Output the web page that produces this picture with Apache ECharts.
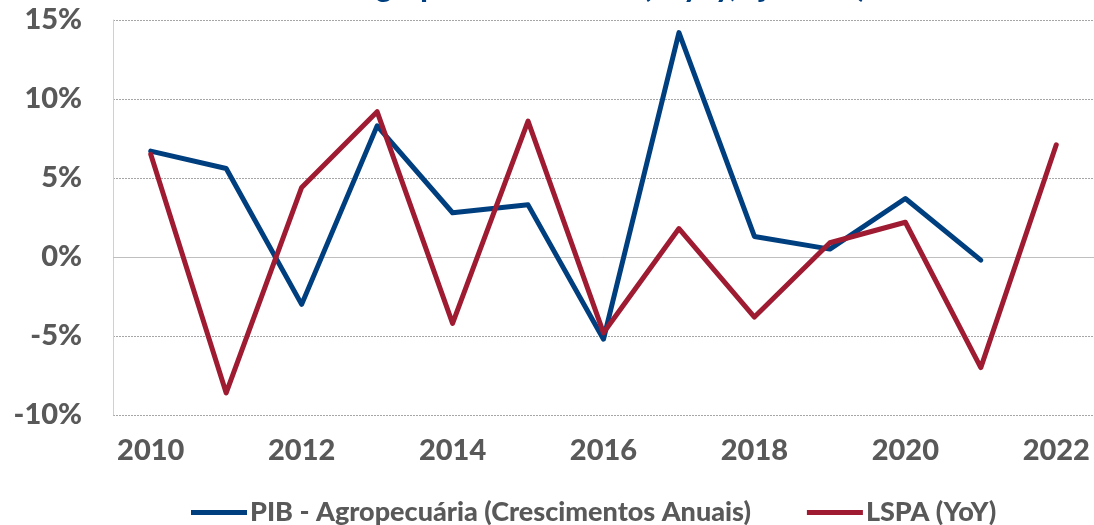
<!DOCTYPE html>
<html>
<head>
<meta charset="utf-8">
<title>PIB Agropecuária x LSPA</title>
<script src="https://cdn.jsdelivr.net/npm/echarts@6/dist/echarts.min.js"></script>
<style>
	html, body { margin: 0; padding: 0; background: #ffffff; }
	#container { width: 1094px; height: 525px; }
</style>
</head>
<body>
<div id="container"></div>
<script>
// anos
var anos = ['2010','2011','2012','2013','2014','2015','2016','2017','2018','2019','2020','2021','2022'];
// PIB - Agropecuária (crescimentos anuais, %)
var pib_agro = [6.7, 5.6, -3.0, 8.3, 2.8, 3.3, -5.2, 14.2, 1.3, 0.5, 3.7, -0.2, null];
// LSPA (YoY, %)
var lspa = [6.5, -8.6, 4.4, 9.2, -4.2, 8.6, -4.8, 1.8, -3.8, 0.9, 2.2, -7.0, 7.1];
// rótulos do eixo y
var y_min = -10;
var y_max = 15;
var y_step = 5;

var fonte = 'Lato, "Open Sans", sans-serif';
var cor_texto = '#595959';

function set_chart()
{
	var dom = document.getElementById("container");
	var myChart = echarts.init(dom, null, {renderer: 'canvas'});
	var option = {
	    backgroundColor: '#ffffff',
	    animation: false,

	    // título cortado no topo (só aparecem as pernas das letras)
	    title: {
	        text: 'PIB Agropecuária x LSPA (% yoy, ajustado)',
	        left: 300,
	        top: -28,
	        padding: 0,
	        textStyle: {
	            color: '#003f7f',
	            fontFamily: fonte,
	            fontWeight: 900,
	            fontSize: 30
	        }
	    },

	    legend: {
	        data: ['PIB - Agropecuária (Crescimentos Anuais)', 'LSPA (YoY)'],
	        left: 186,
	        top: 494,
	        icon: 'rect',
	        itemWidth: 56,
	        itemHeight: 5,
	        itemGap: 56,
	        textStyle: {
	            color: cor_texto,
	            fontFamily: fonte,
	            fontWeight: 900,
	            fontSize: 27,
	            padding: [0, 0, 0, -2]
	        }
	    },

	    grid: {
	        left: 113,
	        top: 20,
	        width: 985,
	        height: 395,
	        containLabel: false
	    },

	    xAxis: {
	        type: 'category',
	        data: anos,
	        boundaryGap: true,
	        axisLine: { show: false },
	        axisTick: { show: false },
	        axisLabel: {
	            interval: 1,
	            margin: 21,
	            color: cor_texto,
	            fontFamily: fonte,
	            fontWeight: 900,
	            fontSize: 29
	        }
	    },

	    yAxis: {
	        type: 'value',
	        min: y_min,
	        max: y_max,
	        interval: y_step,
	        axisLine: { show: true, lineStyle: { color: '#d0d0d0', width: 1 } },
	        axisTick: { show: false },
	        axisLabel: {
	            margin: 31,
	            color: cor_texto,
	            fontFamily: fonte,
	            fontWeight: 900,
	            fontSize: 29,
	            formatter: function (v) { return v + '%'; }
	        },
	        splitLine: {
	            show: true,
	            lineStyle: { color: '#a6a6a6', type: [2, 1], width: 1 }
	        }
	    },

	    series: [
	        {
	            name: 'PIB - Agropecuária (Crescimentos Anuais)',
	            type: 'line',
	            data: pib_agro,
	            symbol: 'none',
	            connectNulls: false,
	            lineStyle: { color: '#003f7f', width: 5, cap: 'round', join: 'round' },
	            itemStyle: { color: '#003f7f' },
	            z: 3,
	            // linha do zero (sólida)
	            markLine: {
	                silent: true,
	                symbol: 'none',
	                label: { show: false },
	                lineStyle: { color: '#bfbfbf', type: 'solid', width: 1 },
	                data: [{ yAxis: 0 }],
	                z: 1
	            }
	        },
	        {
	            name: 'LSPA (YoY)',
	            type: 'line',
	            data: lspa,
	            symbol: 'none',
	            lineStyle: { color: '#9e1b32', width: 5, cap: 'round', join: 'round' },
	            itemStyle: { color: '#9e1b32' },
	            z: 4
	        }
	    ]
	};
	if (option && typeof option === "object") {
	    myChart.setOption(option, true);
	}
}

set_chart();
</script>
</body>
</html>
